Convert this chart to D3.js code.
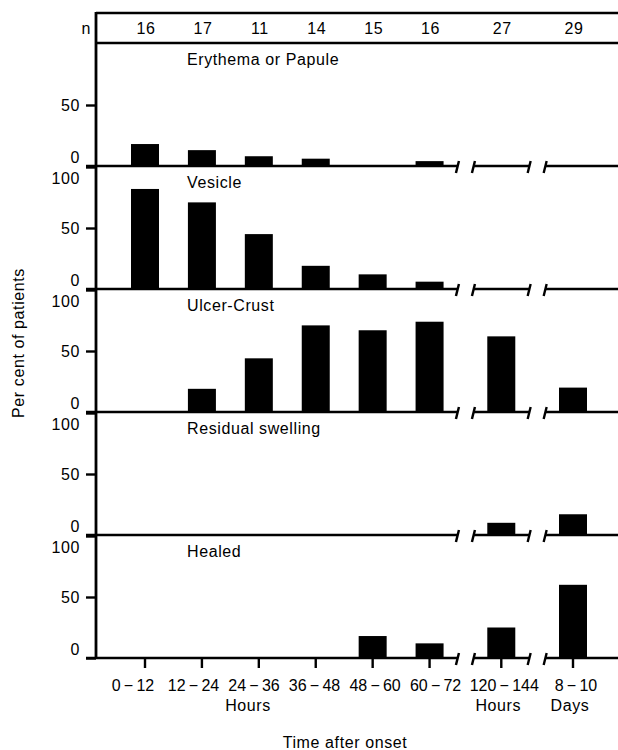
<!DOCTYPE html>
<html>
<head>
<meta charset="utf-8">
<script src="https://cdn.jsdelivr.net/npm/d3@7"></script>
<style>
  html, body { margin: 0; padding: 0; background: #fff; }
  svg text {
    font-family: "Liberation Sans", Arial, Helvetica, sans-serif;
    font-size: 16px;
    letter-spacing: 0.6px;
    fill: #000;
  }
  svg text.cat { letter-spacing: 0; }
</style>
</head>
<body>
<svg id="chart" width="618" height="750"></svg>
<script>
// Time-after-onset bins (thin spaces around the dash)
const categories = ["0\u2009\u2212\u200912", "12\u2009\u2212\u200924", "24\u2009\u2212\u200936",
                    "36\u2009\u2212\u200948", "48\u2009\u2212\u200960", "60\u2009\u2212\u200972",
                    "120\u2009\u2212\u2009144", "8\u2009\u2212\u200910"];
// Which piece of the broken time axis each bin belongs to
const segmentOf = [0, 0, 0, 0, 0, 0, 1, 2];
const segmentUnits = ["Hours", "Hours", "Days"];
// Number of patients observed in each bin
const nPatients = [16, 17, 11, 14, 15, 16, 27, 29];

const panelTitles = ["Erythema or Papule", "Vesicle", "Ulcer-Crust", "Residual swelling", "Healed"];

// Per cent of patients showing each lesion stage
const erythema         = [18, 13,  8,  6,  0,  4,  0,  0];
const vesicle          = [82, 71, 45, 19, 12,  6,  0,  0];
const ulcerCrust       = [ 0, 19, 44, 71, 67, 74, 62, 20];
const residualSwelling = [ 0,  0,  0,  0,  0,  0, 10, 17];
const healed           = [ 0,  0,  0,  0, 18, 12, 25, 60];

const yTicks = [0, 50, 100];

const panelSeries = [erythema, vesicle, ulcerCrust, residualSwelling, healed];

// ---- layout ----
const axisX = 96, headerTop = 13, headerBottom = 43, panelH = 123, rightEdge = 618;
const barW = 28, breakExtra = 0.26, gapHalf = 8, lineW = 2.4;

const svg = d3.select("#chart");

const slot = i => i + breakExtra * segmentOf[i];
const x = d3.scaleLinear()
  .domain([0, slot(categories.length - 1)])
  .range([145, 573]);
const xAt = i => x(slot(i));

const nSeg = segmentUnits.length;
const segIdx = s => categories.map((c, i) => i).filter(i => segmentOf[i] === s);
const breakCenter = s => (xAt(d3.max(segIdx(s))) + xAt(d3.min(segIdx(s + 1)))) / 2;

// label positions: the long hour run is typeset a little wider than its ticks
const firstRun = segIdx(0);
const runLabelX = d3.scalePoint()
  .domain(firstRun)
  .range([xAt(firstRun[0]) - 12, xAt(firstRun[firstRun.length - 1]) + 6]);
const labelX = i => segmentOf[i] === 0 ? runLabelX(i) : xAt(i) + 3;

const lastBase = headerBottom + panelH * panelSeries.length;

// header box with patient counts
svg.append("line").attr("x1", axisX).attr("x2", rightEdge)
  .attr("y1", headerTop).attr("y2", headerTop)
  .attr("stroke", "#000").attr("stroke-width", 2.6);
svg.append("text").attr("x", 91).attr("y", 34).attr("text-anchor", "end").text("n");
svg.append("g").selectAll("text").data(nPatients).join("text")
  .attr("x", (d, i) => xAt(i) + 1)
  .attr("y", 34)
  .attr("text-anchor", "middle")
  .text(d => d);

// panels
panelSeries.forEach((series, p) => {
  const top = headerBottom + p * panelH;
  const base = top + panelH;
  const y = d3.scaleLinear().domain([0, 100]).range([base, top + 1]);
  const g = svg.append("g");

  // bars
  g.selectAll("rect").data(series).join("rect")
    .attr("x", (d, i) => xAt(i) - barW / 2)
    .attr("y", d => y(d))
    .attr("width", barW)
    .attr("height", d => base - y(d))
    .attr("fill", "#000");

  // y axis ticks and labels
  const ax = g.append("g")
    .attr("transform", `translate(${axisX},0)`)
    .call(d3.axisLeft(y)
      .tickValues(p === 0 ? yTicks.slice(0, 2) : yTicks)
      .tickSize(10).tickPadding(6));
  ax.select(".domain").remove();
  ax.selectAll(".tick line").attr("stroke", "#000").attr("stroke-width", lineW);
  ax.selectAll(".tick text")
    .attr("fill", "#000")
    .attr("dy", d => d === 0 ? "-0.22em" : d === 100 ? "1.0em" : "0.32em");

  // baseline broken into segments
  for (let s = 0; s < nSeg; s++) {
    const x0 = s === 0 ? axisX - 10 : breakCenter(s - 1) + gapHalf;
    const x1 = s === nSeg - 1 ? rightEdge : breakCenter(s) - gapHalf;
    g.append("line").attr("x1", x0).attr("x2", x1)
      .attr("y1", base).attr("y2", base)
      .attr("stroke", "#000").attr("stroke-width", lineW);
    if (s > 0) {
      g.append("line").attr("x1", x0 + 1.5).attr("x2", x0 - 1.5)
        .attr("y1", base - 5).attr("y2", base + 7)
        .attr("stroke", "#000").attr("stroke-width", lineW);
    }
    if (s < nSeg - 1) {
      g.append("line").attr("x1", x1 + 1.5).attr("x2", x1 - 1.5)
        .attr("y1", base - 5).attr("y2", base + 7)
        .attr("stroke", "#000").attr("stroke-width", lineW);
    }
  }

  // panel title
  g.append("text").attr("x", 187).attr("y", top + 22).text(panelTitles[p]);
});

// bottom axis ticks and labels
const bx = svg.append("g");
bx.selectAll("line").data(categories).join("line")
  .attr("x1", (d, i) => xAt(i)).attr("x2", (d, i) => xAt(i))
  .attr("y1", lastBase).attr("y2", lastBase + 10)
  .attr("stroke", "#000").attr("stroke-width", lineW);
bx.selectAll("text.cat").data(categories).join("text")
  .attr("class", "cat")
  .attr("x", (d, i) => labelX(i))
  .attr("y", lastBase + 33)
  .attr("text-anchor", "middle")
  .text(d => d);
bx.selectAll("text.unit").data(segmentUnits).join("text")
  .attr("class", "unit")
  .attr("x", (d, s) => { const ids = segIdx(s); return labelX(ids[Math.floor((ids.length - 1) / 2)]) - 6; })
  .attr("y", lastBase + 53)
  .attr("text-anchor", "middle")
  .text(d => d);

// vertical axis line
svg.append("line").attr("x1", axisX).attr("x2", axisX)
  .attr("y1", headerTop - 1).attr("y2", lastBase + 1)
  .attr("stroke", "#000").attr("stroke-width", 2.8);
// header bottom rule
svg.append("line").attr("x1", axisX).attr("x2", rightEdge)
  .attr("y1", headerBottom).attr("y2", headerBottom)
  .attr("stroke", "#000").attr("stroke-width", 2.6);

// axis titles
svg.append("text")
  .attr("transform", "translate(18,343) rotate(-90)")
  .attr("text-anchor", "middle")
  .attr("dy", "0.35em")
  .text("Per cent of patients");
svg.append("text")
  .attr("x", 345).attr("y", 748)
  .attr("text-anchor", "middle")
  .text("Time after onset");
</script>
</body>
</html>
